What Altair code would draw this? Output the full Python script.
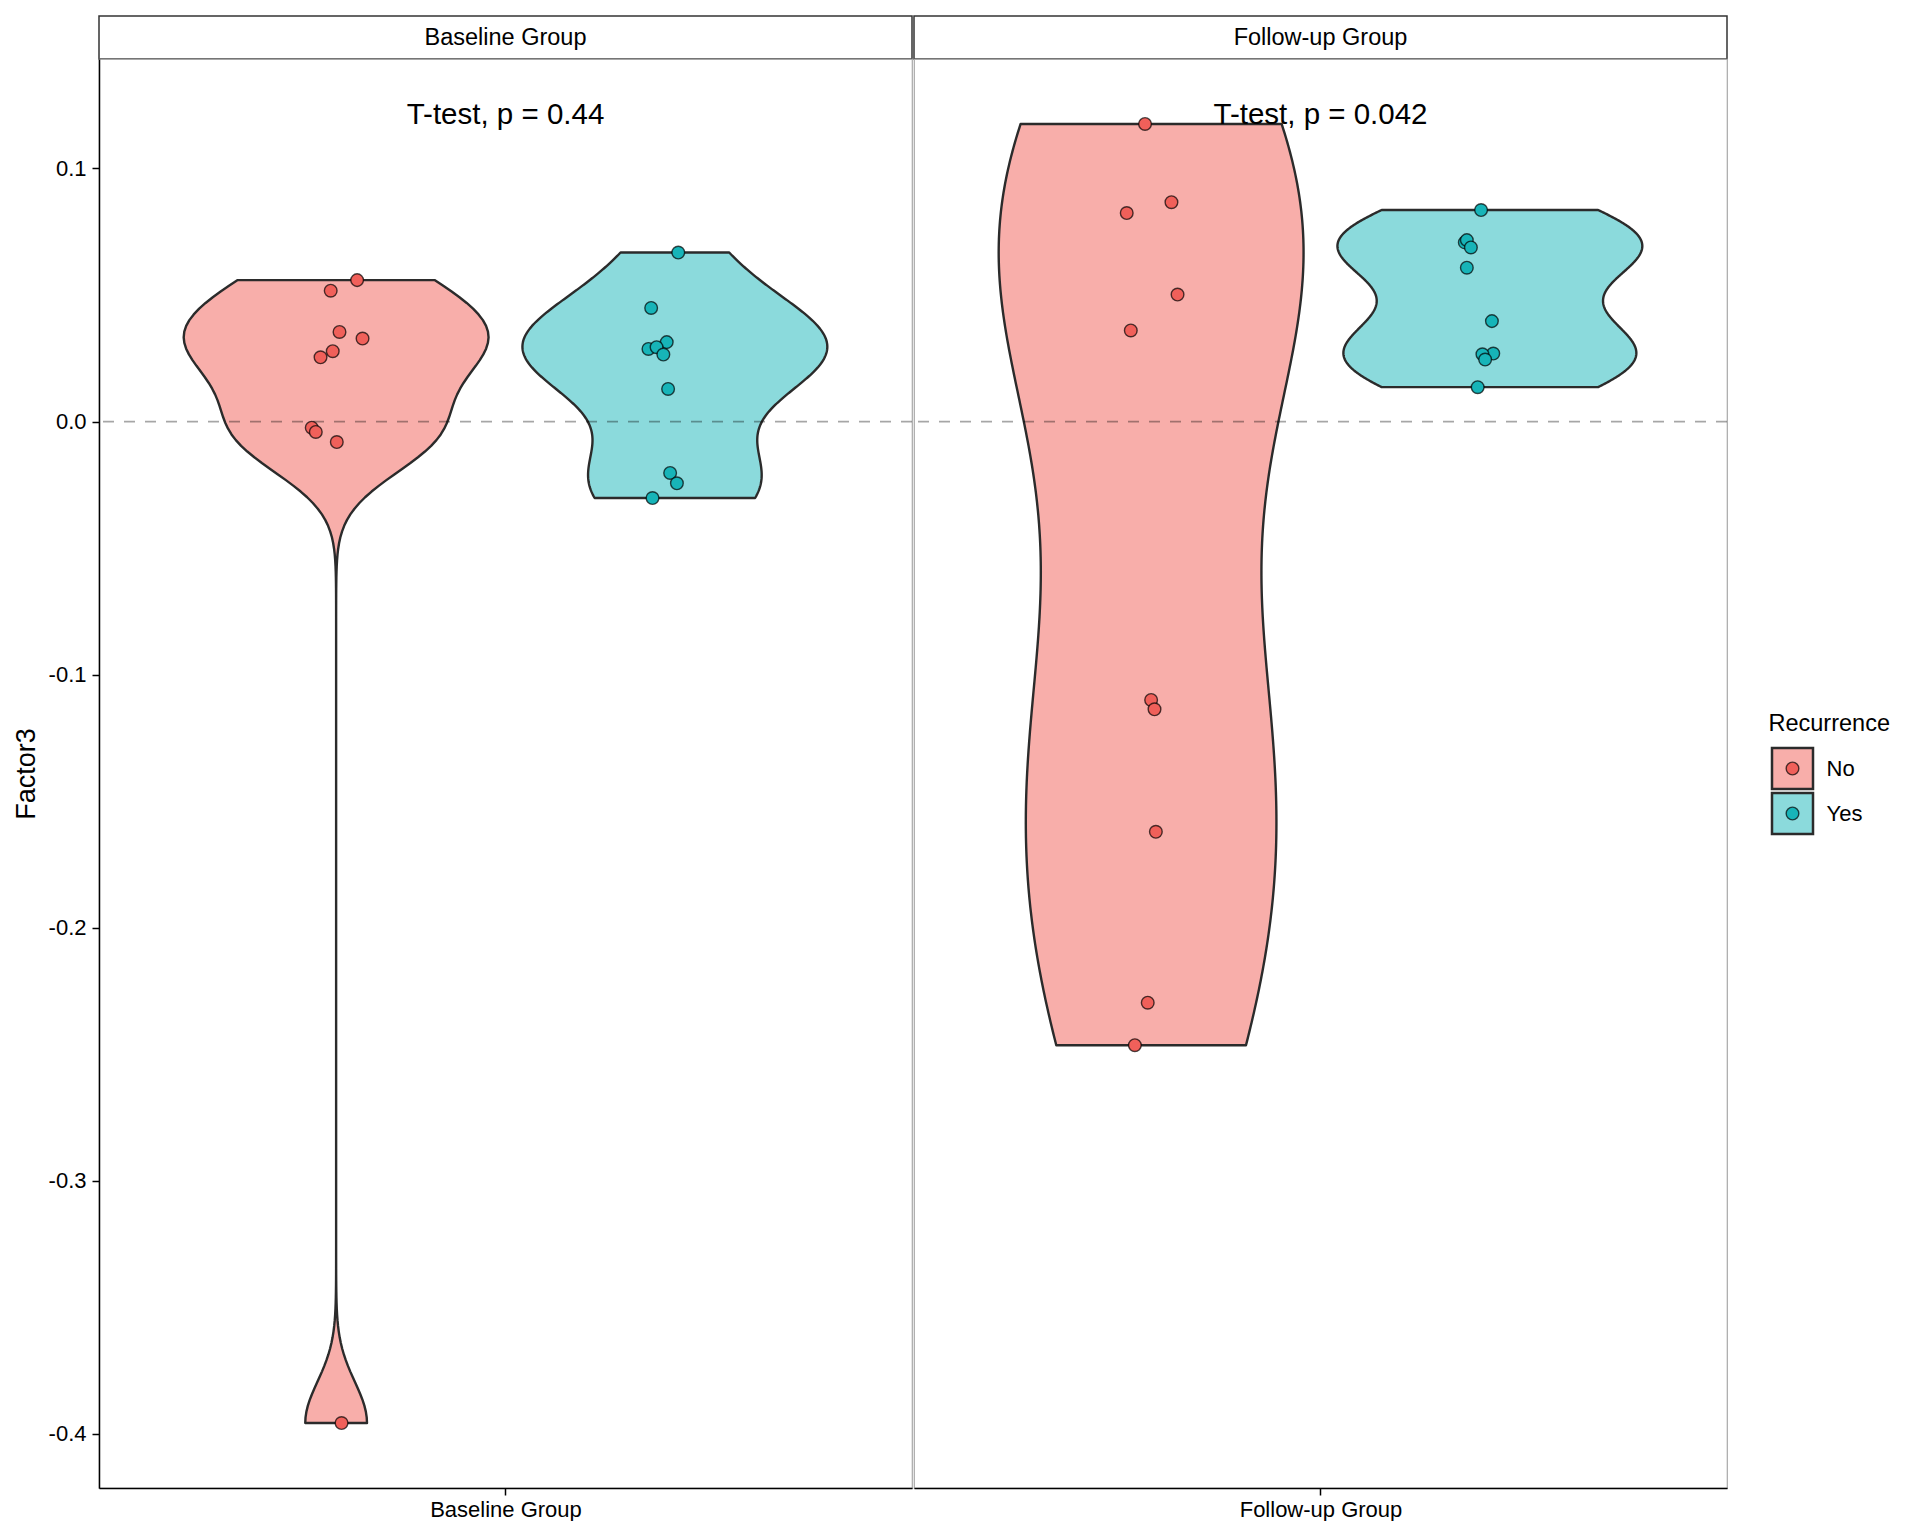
import altair as alt
import numpy as np
import pandas as pd

FONT = "Liberation Sans"

# ---------------- data ----------------
GROUPS = ["Baseline Group", "Follow-up Group"]
RECURRENCE = ["No", "Yes"]

baseline_no = [0.0559, 0.0517, 0.0354, 0.0328, 0.0278, 0.0254, -0.0024, -0.0041, -0.0081, -0.3957]
baseline_no_jitter = [0.031, -0.008, 0.005, 0.039, -0.005, -0.023, -0.036, -0.030, 0.001, 0.008]
baseline_yes = [0.0668, 0.0449, 0.0314, 0.0287, 0.0294, 0.0265, 0.0129, -0.0203, -0.0244, -0.0302]
baseline_yes_jitter = [0.005, -0.035, -0.012, -0.039, -0.027, -0.017, -0.010, -0.007, 0.003, -0.033]
followup_no = [0.1176, 0.0867, 0.0824, 0.0502, 0.0360, -0.1100, -0.1137, -0.1621, -0.2296, -0.2464]
followup_no_jitter = [-0.009, 0.030, -0.036, 0.039, -0.030, 0.000, 0.005, 0.007, -0.005, -0.024]
followup_yes = [0.0836, 0.0708, 0.0717, 0.0688, 0.0608, 0.0397, 0.0269, 0.0266, 0.0245, 0.0136]
followup_yes_jitter = [-0.013, -0.037, -0.034, -0.028, -0.034, 0.003, 0.005, -0.011, -0.007, -0.018]

p_labels = ["T-test, p = 0.44", "T-test, p = 0.042"]
label_y = [0.1176]
y_ticks = [-0.4, -0.3, -0.2, -0.1, 0.0, 0.1]
ref_line = [0.0]

# ---------------- styling ----------------
VIOLIN_FILL = ["#F8AEAA", "#8BDADC"]
POINT_FILL = ["#F0605A", "#17B4B8"]
OUTLINE = "#2B2B2B"
W, H = 813, 1429
STRIP_H = 43
DODGE = 0.25
HALF = 0.225
PT_SIZE = 160

series = [
    (GROUPS[0], "No", baseline_no, baseline_no_jitter),
    (GROUPS[0], "Yes", baseline_yes, baseline_yes_jitter),
    (GROUPS[1], "No", followup_no, followup_no_jitter),
    (GROUPS[1], "Yes", followup_yes, followup_yes_jitter),
]
rows = []
for g, rec, vals, jit in series:
    for v, j in zip(vals, jit):
        rows.append({"group": g, "rec": rec, "value": v, "jitter": j})
df = pd.DataFrame(rows)


def nrd0(x):
    x = np.asarray(x, dtype=float)
    hi = x.std(ddof=1)
    q75, q25 = np.percentile(x, [75, 25])
    lo = min(hi, (q75 - q25) / 1.34) or hi
    return 0.9 * lo * len(x) ** -0.2


vmin, vmax = df["value"].min(), df["value"].max()
pad = 0.05 * (vmax - vmin)
yscale = alt.Scale(domain=[vmin - pad, vmax + pad], nice=False, zero=False)
xscale = alt.Scale(domain=[0.4, 1.6], nice=False, zero=False)

yaxis = alt.Axis(
    values=y_ticks,
    labelExpr="replace(format(datum.value, '.1f'), '\u2212', '-')",
    title="Factor3", titleFontSize=27, titleFontWeight="normal", titleColor="black",
    titlePadding=8, labelFontSize=22, labelColor="black", labelPadding=6,
    tickColor="black", tickSize=7, tickWidth=1.5, domainColor="black", domainWidth=1.5,
    grid=False,
)


def xaxis(g):
    return alt.Axis(
        values=[1], labelExpr=f"'{g}'", title=None, grid=False,
        labelFontSize=22, labelColor="black", labelPadding=4,
        tickColor="black", tickSize=7, tickWidth=1.5,
        domainColor="black", domainWidth=1.5,
    )


def panel(gi):
    g = GROUPS[gi]
    ya = yaxis if gi == 0 else None
    xa = xaxis(g)
    base = alt.Chart(df).transform_filter(alt.datum.group == g)
    layers = []
    for ri, rec in enumerate(RECURRENCE):
        center = 1 - DODGE if rec == "No" else 1 + DODGE
        vals = df[(df.group == g) & (df.rec == rec)]["value"]
        bw = nrd0(vals)
        v = (
            base.transform_filter(alt.datum.rec == rec)
            .transform_density("value", as_=["value", "density"], bandwidth=bw, steps=200)
            .transform_joinaggregate(maxd="max(density)")
            .transform_calculate(
                xlo=f"{center} - {HALF} * datum.density / datum.maxd",
                xhi=f"{center} + {HALF} * datum.density / datum.maxd",
            )
            .mark_area(orient="horizontal", fill=VIOLIN_FILL[ri], stroke=OUTLINE,
                       strokeWidth=2.4, strokeJoin="round")
            .encode(
                y=alt.Y("value:Q", scale=yscale, axis=ya),
                x=alt.X("xlo:Q", scale=xscale, axis=xa),
                x2="xhi:Q",
            )
        )
        layers.append(v)

    rule = (
        alt.Chart(pd.DataFrame({"ref": ref_line}))
        .mark_rule(color="black", opacity=0.35, strokeWidth=1.8, strokeDash=[11, 10])
        .encode(y=alt.Y("ref:Q", scale=yscale, axis=ya))
    )
    pts = (
        base.transform_calculate(
            xpos=f"(datum.rec == 'No' ? {1 - DODGE} : {1 + DODGE}) + datum.jitter"
        )
        .mark_point(filled=True, size=PT_SIZE, opacity=1, stroke="black",
                    strokeWidth=1.4, strokeOpacity=0.7)
        .encode(
            x=alt.X("xpos:Q", scale=xscale, axis=xa),
            y=alt.Y("value:Q", scale=yscale, axis=ya),
            fill=alt.Fill("rec:N", scale=alt.Scale(domain=RECURRENCE, range=POINT_FILL),
                          legend=None),
        )
    )
    txt = (
        alt.Chart(pd.DataFrame({"x": [1], "y": label_y, "label": [p_labels[gi]]}))
        .mark_text(fontSize=29.5, font=FONT, baseline="alphabetic", align="center", color="black")
        .encode(
            x=alt.X("x:Q", scale=xscale, axis=xa),
            y=alt.Y("y:Q", scale=yscale, axis=ya),
            text="label:N",
        )
    )
    plot = alt.layer(*layers, rule, pts, txt).properties(
        width=W, height=H,
        view=alt.ViewBackground(stroke="#A8A8A8", strokeWidth=1.2, fill="white"),
    )
    strip = (
        alt.Chart(pd.DataFrame({"g": [g]}))
        .mark_text(fontSize=23.5, font=FONT, baseline="middle", align="center", color="black")
        .encode(x=alt.value(W / 2), y=alt.value(STRIP_H / 2), text="g:N")
        .properties(width=W, height=STRIP_H,
                    view=alt.ViewBackground(stroke="#333333", strokeWidth=1.5, fill="white"))
    )
    return alt.vconcat(strip, plot, spacing=0, bounds="flush")


# ---------------- legend built from marks ----------------
LEG_W = 185
LEG_TOP = 685
LEG_ROWS = ["Recurrence"] + RECURRENCE
leg_df = pd.DataFrame({"row": RECURRENCE})
ly = alt.Y("row:N", scale=alt.Scale(domain=LEG_ROWS, range=[LEG_TOP, LEG_TOP + 135],
                                    paddingInner=0, paddingOuter=0), axis=None)

KEY_X = 63.5
squares = alt.Chart(leg_df).mark_square(size=1681, opacity=1, stroke=OUTLINE, strokeWidth=2.5).encode(
    x=alt.value(KEY_X), y=ly,
    fill=alt.Fill("row:N", scale=alt.Scale(domain=RECURRENCE, range=VIOLIN_FILL), legend=None),
)
circles = alt.Chart(leg_df).mark_circle(size=PT_SIZE, opacity=1, stroke="black", strokeWidth=1.4,
                                        strokeOpacity=0.7).encode(
    x=alt.value(KEY_X), y=ly,
    color=alt.Color("row:N", scale=alt.Scale(domain=RECURRENCE, range=POINT_FILL), legend=None),
)
labels = alt.Chart(leg_df).mark_text(align="left", baseline="middle", fontSize=22, font=FONT,
                                     color="black").encode(x=alt.value(KEY_X + 34), y=ly, text="row:N")
leg_title = alt.Chart(pd.DataFrame({"row": ["Recurrence"]})).mark_text(
    align="left", baseline="middle", fontSize=23.5, font=FONT, color="black"
).encode(x=alt.value(KEY_X - 24), y=ly, text="row:N")

legend = alt.layer(squares, circles, labels, leg_title).resolve_scale(fill="independent").properties(
    width=LEG_W, height=STRIP_H + H, view=alt.ViewBackground(stroke="transparent")
)

chart = (
    alt.hconcat(panel(0), panel(1), legend, spacing=-4)
    .properties(padding={"left": 11, "top": 15, "right": 0, "bottom": 0}, background="white")
    .configure(font=FONT)
    .configure_view(stroke="transparent")
)

chart.save("out.html", embed_options={"renderer": "svg", "actions": False})
